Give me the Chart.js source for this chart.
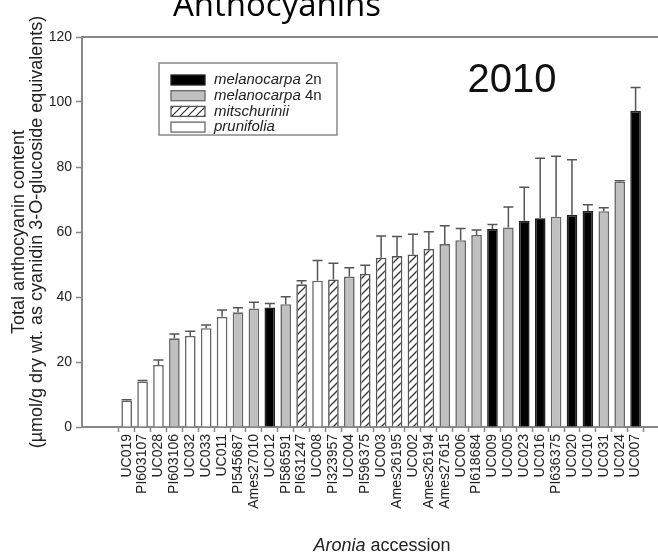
<!DOCTYPE html>
<html>
<head>
<meta charset="utf-8">
<script src="https://cdn.jsdelivr.net/npm/chart.js@4.4.1/dist/chart.umd.min.js"></script>
<style>
  html, body { margin: 0; padding: 0; background: #fff; }
  #wrap { width: 658px; height: 556px; }
</style>
</head>
<body>
<div id="wrap"><canvas id="myChart" width="658" height="556"></canvas></div>
<script>
// data (2010 season)
var accessions = ['UC019', 'PI603107', 'UC028', 'PI603106', 'UC032', 'UC033', 'UC011', 'PI545687',
  'Ames27010', 'UC012', 'PI586591', 'PI631247', 'UC008', 'PI323957', 'UC004', 'PI596375', 'UC003',
  'Ames26195', 'UC002', 'Ames26194', 'Ames27615', 'UC006', 'PI618684', 'UC009', 'UC005', 'UC023',
  'UC016', 'PI636375', 'UC020', 'UC010', 'UC031', 'UC024', 'UC007'];

var anthocyanin = [8.1, 14.0, 19.1, 27.3, 28.0, 30.4, 33.9, 35.3, 36.5, 36.8, 37.8, 43.9, 45.0,
  45.4, 46.3, 47.1, 52.1, 52.6, 53.1, 54.8, 56.3, 57.5, 59.1, 60.9, 61.4, 63.5, 64.2, 64.7, 65.3,
  66.5, 66.4, 75.5, 97.3];

var errors = [0.3, 0.3, 1.5, 1.3, 1.5, 1.0, 2.1, 1.4, 1.9, 1.2, 2.3, 1.1, 6.2, 5.0, 2.7, 2.7, 6.7,
  6.0, 6.2, 5.3, 5.6, 3.6, 1.5, 1.4, 6.3, 10.3, 18.5, 18.6, 16.9, 1.9, 1.1, 0.3, 7.2];

// m2 = melanocarpa 2n, m4 = melanocarpa 4n, mi = mitschurinii, pr = prunifolia
var species = ['pr', 'pr', 'pr', 'm4', 'pr', 'pr', 'pr', 'm4', 'm4', 'm2', 'm4', 'mi', 'pr', 'mi',
  'm4', 'mi', 'mi', 'mi', 'mi', 'mi', 'm4', 'm4', 'm4', 'm2', 'm4', 'm2', 'm2', 'm4', 'm2', 'm2',
  'm4', 'm4', 'm2'];

var yTicks = [0, 20, 40, 60, 80, 100, 120];

var legendItems = [
  { code: 'm2', italic: 'melanocarpa', plain: ' 2n' },
  { code: 'm4', italic: 'melanocarpa', plain: ' 4n' },
  { code: 'mi', italic: 'mitschurinii', plain: '' },
  { code: 'pr', italic: 'prunifolia', plain: '' }
];

var ctx = document.getElementById('myChart').getContext('2d');

function makeHatch(size, w) {
  var c = document.createElement('canvas');
  c.width = size; c.height = size;
  var g = c.getContext('2d');
  g.fillStyle = '#fff';
  g.fillRect(0, 0, size, size);
  g.strokeStyle = '#333';
  g.lineWidth = w;
  g.beginPath();
  g.moveTo(0, size); g.lineTo(size, 0);
  g.moveTo(-size / 2, size / 2); g.lineTo(size / 2, -size / 2);
  g.moveTo(size / 2, size * 1.5); g.lineTo(size * 1.5, size / 2);
  g.stroke();
  return ctx.createPattern(c, 'repeat');
}

var hatch = makeHatch(8, 1.3);
var fills = { m2: '#000', m4: '#c0c0c0', mi: hatch, pr: '#fff' };
var borders = { m2: '#222', m4: '#666', mi: '#555', pr: '#666' };

var FONT = "'Liberation Sans', Arial, sans-serif";

var decorations = {
  id: 'decorations',
  afterDatasetsDraw: function(chart) {
    var c = chart.ctx, xs = chart.scales.x, ys = chart.scales.y, a = chart.chartArea;
    c.save();
    // error bars
    c.strokeStyle = '#555';
    c.lineWidth = 1.5;
    for (var i = 0; i < anthocyanin.length; i++) {
      var x = xs.getPixelForValue(i);
      var y0 = ys.getPixelForValue(anthocyanin[i]);
      var y1 = ys.getPixelForValue(anthocyanin[i] + errors[i]);
      c.beginPath();
      c.moveTo(x, y0); c.lineTo(x, y1);
      c.moveTo(x - 5, y1); c.lineTo(x + 5, y1);
      c.stroke();
    }
    // top frame line
    c.strokeStyle = '#888';
    c.lineWidth = 2;
    c.beginPath();
    c.moveTo(a.left, a.top); c.lineTo(a.right, a.top);
    c.stroke();

    // legend box
    c.lineWidth = 1.5;
    c.strokeStyle = '#888';
    c.strokeRect(159, 63, 178, 72);
    legendItems.forEach(function(it, k) {
      var cy = 80 + k * 15.7;
      c.fillStyle = it.code === 'mi' ? makeHatch(8, 1.2) : fills[it.code];
      c.fillRect(171, cy - 5, 34, 10);
      c.strokeStyle = borders[it.code];
      c.lineWidth = 1.3;
      c.strokeRect(171, cy - 5, 34, 10);
      c.fillStyle = '#222';
      c.textBaseline = 'middle';
      c.textAlign = 'left';
      c.font = 'italic 15px ' + FONT;
      c.fillText(it.italic, 214, cy);
      var w = c.measureText(it.italic).width;
      c.font = '15px ' + FONT;
      c.fillText(it.plain, 214 + w, cy);
    });

    // year label
    c.fillStyle = '#111';
    c.textAlign = 'center';
    c.textBaseline = 'alphabetic';
    c.font = '40px ' + FONT;
    c.fillText('2010', 512, 92);

    // x axis title
    c.font = 'italic 18px ' + FONT;
    var t1 = 'Aronia', t2 = ' accession';
    var w1 = c.measureText(t1).width;
    c.font = '18px ' + FONT;
    var w2 = c.measureText(t2).width;
    var sx = 382 - (w1 + w2) / 2;
    c.textAlign = 'left';
    c.fillStyle = '#222';
    c.font = 'italic 18px ' + FONT;
    c.fillText(t1, sx, 551);
    c.font = '18px ' + FONT;
    c.fillText(t2, sx + w1, 551);

    // main title (cut off at the top edge)
    c.textAlign = 'center';
    c.fillStyle = '#000';
    c.font = "33px 'Open Sans', sans-serif";
    c.fillText('Anthocyanins', 277, 16);
    c.restore();
  }
};

var chart = new Chart(ctx, {
  type: 'bar',
  data: {
    datasets: [{
      data: anthocyanin.map(function(v, i) { return { x: i, y: v }; }),
      backgroundColor: species.map(function(s) { return fills[s]; }),
      borderColor: species.map(function(s) { return borders[s]; }),
      borderWidth: 1.6,
      categoryPercentage: 1,
      barPercentage: 0.67
    }]
  },
  options: {
    responsive: false,
    animation: false,
    layout: { padding: { top: 37, left: 0, right: 0, bottom: 0 } },
    plugins: {
      legend: { display: false },
      tooltip: { enabled: false }
    },
    scales: {
      x: {
        type: 'linear',
        min: -2.26,
        max: 32.86,
        afterBuildTicks: function(axis) {
          axis.ticks = accessions.map(function(_, i) { return { value: i }; });
        },
        afterFit: function(axis) { axis.height = 129; },
        ticks: {
          autoSkip: false,
          minRotation: 90,
          maxRotation: 90,
          padding: 2,
          color: '#222',
          font: { family: FONT, size: 14 },
          callback: function(v) { return accessions[v]; }
        },
        grid: { drawOnChartArea: false, tickLength: 5, color: '#888', tickWidth: 1.5 },
        border: { color: '#888', width: 2 }
      },
      y: {
        min: 0,
        max: 120,
        afterBuildTicks: function(axis) {
          axis.ticks = yTicks.map(function(v) { return { value: v }; });
        },
        afterFit: function(axis) { axis.width = 82; },
        ticks: {
          padding: 4,
          color: '#222',
          font: { family: FONT, size: 14 }
        },
        grid: { drawOnChartArea: false, tickLength: 6, color: '#888', tickWidth: 1.5 },
        border: { color: '#888', width: 2 },
        title: {
          display: true,
          text: ['Total anthocyanin content', '(\u00b5mol/g dry wt. as cyanidin 3-O-glucoside equivalents)'],
          color: '#222',
          font: { family: FONT, size: 18, lineHeight: 1.0 },
          padding: { top: 10, bottom: 0 }
        }
      }
    }
  },
  plugins: [decorations]
});
</script>
</body>
</html>
